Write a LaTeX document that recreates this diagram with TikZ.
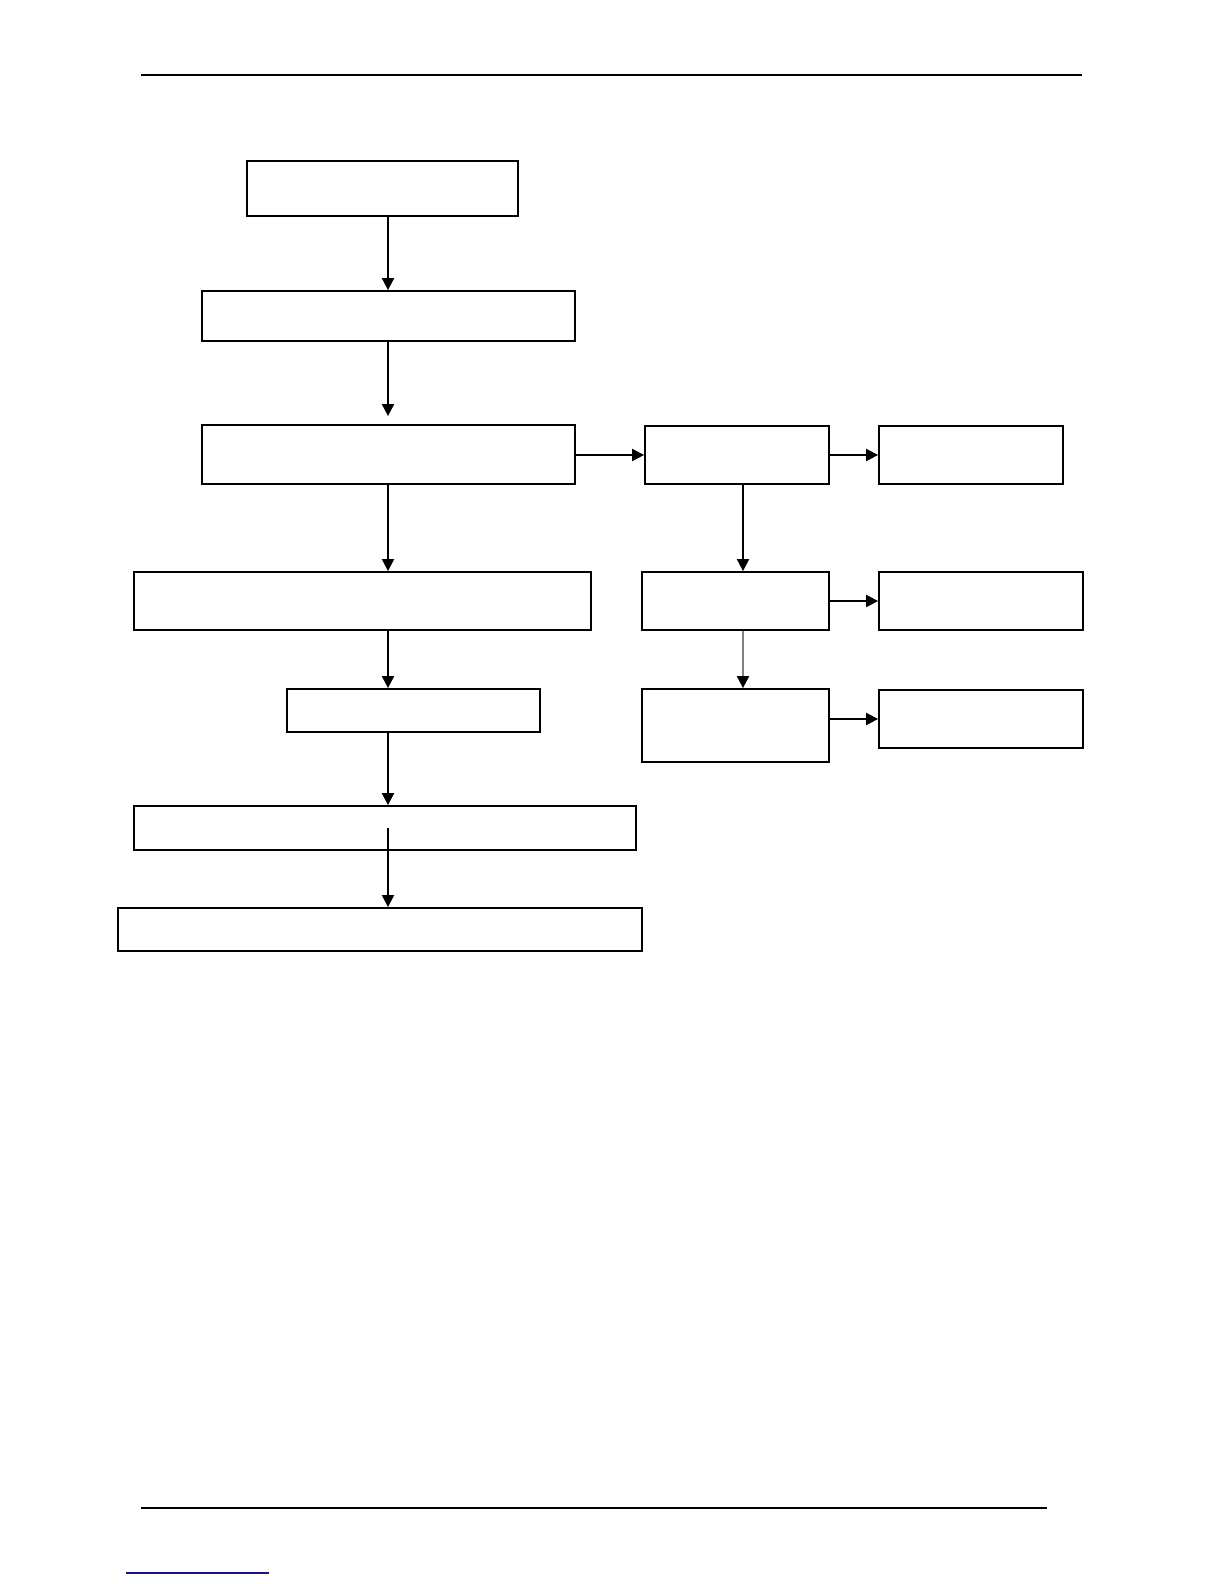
\documentclass[tikz,border=0pt]{standalone}
\usepackage{tikz}
\usetikzlibrary{arrows.meta, fit, calc}

\begin{document}
\begin{tikzpicture}[
        x=0.5pt, y=-0.5pt,
        box/.style={draw, rectangle, line width=0.9pt, inner sep=0pt},
        arrow/.style={line width=1pt, -{Triangle[length=6pt, width=6pt]}},
        rule/.style={line width=0.8pt}
    ]
        \useasboundingbox (0,0) rectangle (1224,1584);

        % page rules
        \draw[rule] (141,75) -- (1082,75);
        \draw[rule] (141,1508) -- (1047,1508);
        \draw[line width=0.6pt, color={rgb,255:red,20;green,20;blue,130}] (126,1573) -- (269,1573);

        % column lines for the arrows
        \coordinate (lc) at (388,0);
        \coordinate (rc) at (743,0);

        % Blocks, left column
        \node[box, fit={(247,161) (518,216)}] (start) {};
        \node[box, fit={(202,291) (575,341)}] (second) {};
        \node[box, fit={(202,425) (575,484)}] (third) {};
        \node[box, fit={(134,572) (591,630)}] (fourth) {};
        \node[box, fit={(287,689) (540,732)}] (fifth) {};
        \node[box, fit={(134,806) (636,850)}] (sixth) {};
        \node[box, fit={(118,908) (642,951)}] (last) {};

        % Blocks, right columns
        \node[box, fit={(645,426) (829,484)}] (branchA) {};
        \node[box, fit={(879,426) (1063,484)}] (resultA) {};
        \node[box, fit={(642,572) (829,630)}] (branchB) {};
        \node[box, fit={(879,572) (1083,630)}] (resultB) {};
        \node[box, fit={(642,689) (829,762)}] (branchC) {};
        \node[box, fit={(879,690) (1083,748)}] (resultC) {};

        % Arrows, left column
        \draw[arrow] (start.south -| lc) -- (second.north -| lc);
        \draw[arrow, shorten >=4pt] (second.south -| lc) -- (third.north -| lc);
        \draw[arrow] (third.south -| lc) -- (fourth.north -| lc);
        \draw[arrow] (fourth.south -| lc) -- (fifth.north -| lc);
        \draw[arrow] (fifth.south -| lc) -- (sixth.north -| lc);
        \draw[arrow] (sixth.center -| lc) -- (last.north -| lc);

        % Arrows, right columns
        \draw[arrow] (third.east |- branchA.west) -- (branchA.west);
        \draw[arrow] (branchA.east) -- (resultA.west);
        \draw[arrow] (branchA.south -| rc) -- (branchB.north -| rc);
        \draw[arrow] (branchB.east) -- (resultB.west);
        \draw[line width=1pt, draw=gray, -{Triangle[length=6pt, width=6pt, color=black]}] (branchB.south -| rc) -- (branchC.north -| rc);
        \draw[arrow] (branchC.east |- resultC.west) -- (resultC.west);
    \end{tikzpicture}
\end{document}
